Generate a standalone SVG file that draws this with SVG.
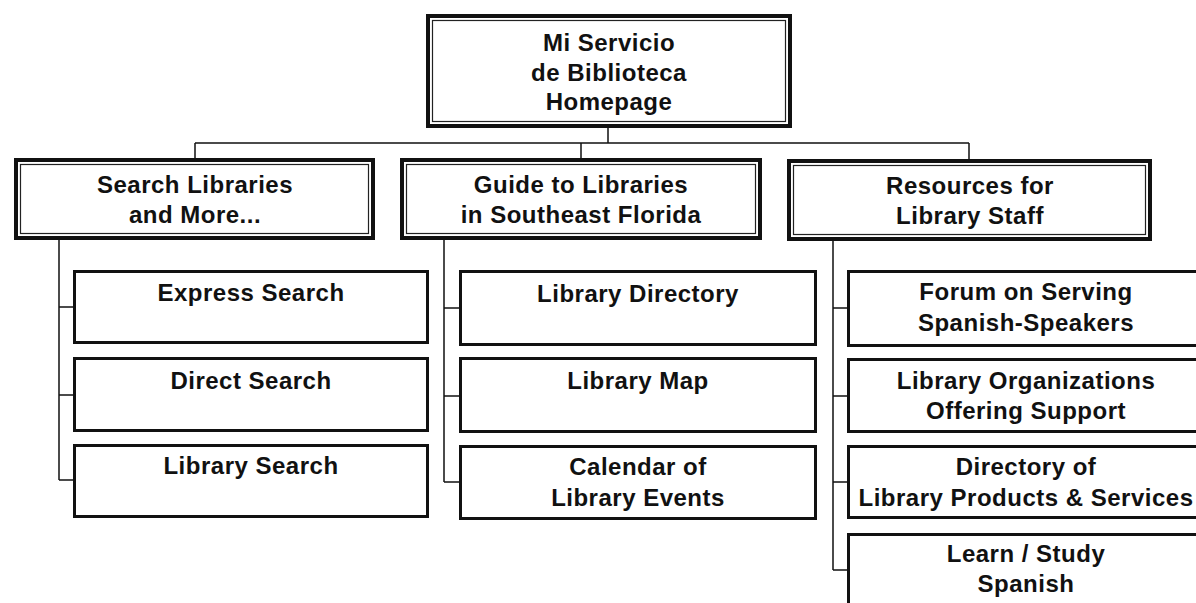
<svg xmlns="http://www.w3.org/2000/svg" width="1196" height="603" viewBox="0 0 1196 603">
<style>
.bg{fill:#ffffff}
.outer{fill:#ffffff;stroke:#111;stroke-width:4}
.inner{fill:none;stroke:#222;stroke-width:1.2}
.child{fill:#ffffff;stroke:#111;stroke-width:3}
.conn{fill:none;stroke:#111;stroke-width:1.5}
text{font-family:"Liberation Sans",Arial,Helvetica,sans-serif;font-weight:bold;font-size:24px;fill:#111;text-anchor:middle;letter-spacing:0.5px}
</style>
<rect class="bg" x="0" y="0" width="1196" height="603"/>
<g id="connectors">
<path class="conn" d="M608 128V143M195 143H969M195 143V158M581 143V158M969 143V160"/>
<path class="conn" d="M59 240V480M59 307H73M59 395H73M59 480H73"/>
<path class="conn" d="M444 240V482M444 308H459M444 396H459M444 482H459"/>
<path class="conn" d="M833 240V570M833 308H847M833 396H847M833 482H847M833 570H847"/>
</g>
<g id="home">
<rect class="outer" x="428" y="16" width="362" height="110"/>
<rect class="inner" x="432.5" y="20.5" width="353" height="101"/>
<text x="609" y="51">Mi Servicio</text>
<text x="609" y="81">de Biblioteca</text>
<text x="609" y="110">Homepage</text>
</g>
<g id="search">
<rect class="outer" x="16" y="160" width="357" height="78"/>
<rect class="inner" x="20.5" y="164.5" width="348" height="69"/>
<text x="195" y="193">Search Libraries</text>
<text x="195" y="223">and More...</text>
</g>
<g id="guide">
<rect class="outer" x="402" y="160" width="358" height="78"/>
<rect class="inner" x="406.5" y="164.5" width="349" height="69"/>
<text x="581" y="193">Guide to Libraries</text>
<text x="581" y="223">in Southeast Florida</text>
</g>
<g id="resources">
<rect class="outer" x="789" y="161" width="361" height="78"/>
<rect class="inner" x="793.5" y="165.5" width="352" height="69"/>
<text x="970" y="194">Resources for</text>
<text x="970" y="224">Library Staff</text>
</g>
<g id="express-search">
<rect class="child" x="74.5" y="271.5" width="353" height="71"/>
<text x="251" y="301">Express Search</text>
</g>
<g id="direct-search">
<rect class="child" x="74.5" y="358.5" width="353" height="72"/>
<text x="251" y="389">Direct Search</text>
</g>
<g id="library-search">
<rect class="child" x="74.5" y="445.5" width="353" height="71"/>
<text x="251" y="474">Library Search</text>
</g>
<g id="library-directory">
<rect class="child" x="460.5" y="271.5" width="355" height="73"/>
<text x="638" y="302">Library Directory</text>
</g>
<g id="library-map">
<rect class="child" x="460.5" y="358.5" width="355" height="73"/>
<text x="638" y="389">Library Map</text>
</g>
<g id="calendar">
<rect class="child" x="460.5" y="446.5" width="355" height="72"/>
<text x="638" y="475">Calendar of</text>
<text x="638" y="506">Library Events</text>
</g>
<g id="forum">
<rect class="child" x="848.5" y="271.5" width="356" height="74"/>
<text x="1026" y="300">Forum on Serving</text>
<text x="1026" y="331">Spanish-Speakers</text>
</g>
<g id="organizations">
<rect class="child" x="848.5" y="359.5" width="356" height="72"/>
<text x="1026" y="389">Library Organizations</text>
<text x="1026" y="419">Offering Support</text>
</g>
<g id="directory">
<rect class="child" x="848.5" y="446.5" width="356" height="71"/>
<text x="1026" y="475">Directory of</text>
<text x="1026" y="506">Library Products &amp; Services</text>
</g>
<g id="learn-spanish">
<rect class="child" x="848.5" y="534.5" width="356" height="90"/>
<text x="1026" y="562">Learn / Study</text>
<text x="1026" y="592">Spanish</text>
</g>
</svg>
